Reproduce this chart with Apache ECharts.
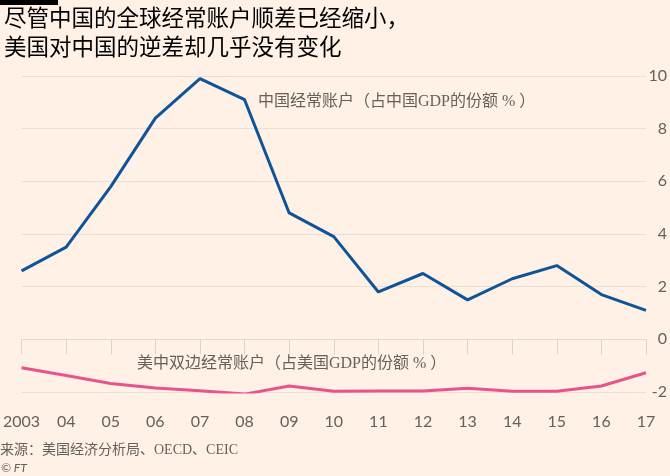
<!DOCTYPE html>
<html>
<head>
<meta charset="utf-8">
<script src="https://cdn.jsdelivr.net/npm/echarts@6/dist/echarts.min.js"></script>
<style>
html, body { margin: 0; padding: 0; background: #fff1e5; }
#chart { width: 670px; height: 476px; }
</style>
</head>
<body>
<div id="chart"></div>
<script>
// 年份 / 刻度
var years = ['2003', '2004', '2005', '2006', '2007', '2008', '2009', '2010', '2011', '2012', '2013', '2014', '2015', '2016', '2017'];
var yearLabels = ['2003', '04', '05', '06', '07', '08', '09', '10', '11', '12', '13', '14', '15', '16', '17'];
var yTicks = [-2, 0, 2, 4, 6, 8, 10];

// 中国经常账户（占中国GDP的份额%）
var chinaCA = [2.6, 3.5, 5.8, 8.4, 9.9, 9.1, 4.8, 3.9, 1.8, 2.5, 1.5, 2.3, 2.8, 1.7, 1.1];
// 美中双边经常账户（占美国GDP的份额%）
var usChinaCA = [-1.08, -1.37, -1.68, -1.85, -1.95, -2.08, -1.77, -1.97, -1.96, -1.96, -1.86, -1.97, -1.97, -1.77, -1.27];

var chart = echarts.init(document.getElementById('chart'));
var grey = '#66605c';
var cjk = '"Noto Sans CJK SC", sans-serif';
var serif = '"Liberation Serif", "Noto Sans CJK SC", serif';

chart.setOption({
    backgroundColor: '#fff1e5',
    animation: false,
    grid: { left: 18, right: 23, top: 76, bottom: 84 },
    xAxis: {
        type: 'category',
        data: years,
        boundaryGap: false,
        axisLine: { show: true, lineStyle: { color: '#e3d9cf', width: 1 } },
        axisTick: { show: true, length: 15, interval: 0, lineStyle: { color: '#ddd2c7' } },
        axisLabel: {
            interval: 0,
            margin: 22,
            color: grey,
            fontSize: 16,
            fontFamily: 'Lato, sans-serif',
            formatter: function (v, i) { return yearLabels[i]; }
        },
        splitLine: { show: false }
    },
    yAxis: {
        type: 'value',
        position: 'right',
        min: yTicks[0],
        max: yTicks[yTicks.length - 1],
        interval: 2,
        axisLine: { show: false },
        axisTick: { show: false },
        axisLabel: {
            margin: 21,
            align: 'right',
            color: grey,
            fontSize: 16,
            fontFamily: 'Lato, sans-serif'
        },
        splitLine: { lineStyle: { color: '#e9dfd5', width: 1 } }
    },
    series: [{
        name: '中国经常账户',
        type: 'line',
        data: chinaCA,
        symbol: 'none',
        lineStyle: { color: '#0f5499', width: 3 },
        z: 3
    }, {
        name: '美中双边经常账户',
        type: 'line',
        data: usChinaCA,
        symbol: 'none',
        lineStyle: { color: '#e9538a', width: 3 },
        z: 3
    }],
    graphic: [
        { type: 'rect', left: 0, top: 0, shape: { width: 58, height: 5 }, style: { fill: '#000' } },
        { type: 'text', left: 4, top: 6, style: { text: '尽管中国的全球经常账户顺差已经缩小，', fill: '#000', font: '22.5px ' + cjk } },
        { type: 'text', left: 4, top: 35, style: { text: '美国对中国的逆差却几乎没有变化', fill: '#000', font: '22.5px ' + cjk } },
        { type: 'text', left: 258, top: 94, style: { text: '中国经常账户（占中国GDP的份额 % ）', fill: grey, font: '16px ' + serif } },
        { type: 'text', left: 137, top: 356, style: { text: '美中双边经常账户（占美国GDP的份额 % ）', fill: grey, font: '16px ' + serif } },
        { type: 'text', left: 0, top: 443, style: { text: '来源：美国经济分析局、OECD、CEIC', fill: grey, font: '14px ' + serif } },
        { type: 'text', left: 1, top: 462, style: { text: '© FT', fill: grey, font: 'italic 12px Lato, sans-serif' } }
    ]
});
</script>
</body>
</html>
